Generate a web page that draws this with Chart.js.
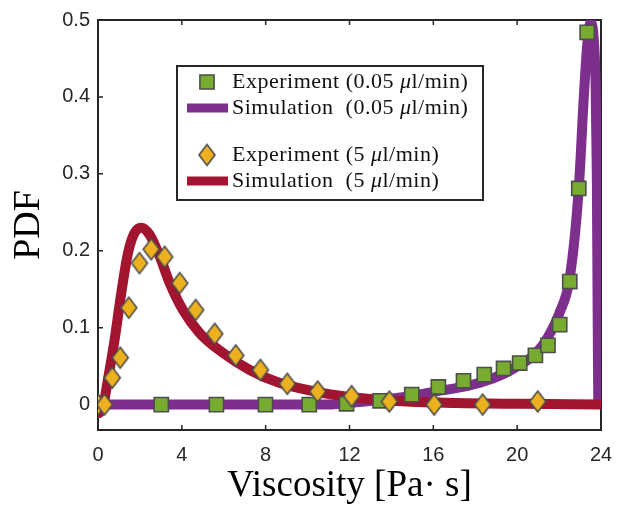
<!DOCTYPE html>
<html>
<head>
<meta charset="utf-8">
<script src="https://cdn.jsdelivr.net/npm/chart.js@4.4.0/dist/chart.umd.min.js"></script>
<style>
  html, body { margin: 0; padding: 0; background: #fff; }
</style>
</head>
<body>
<canvas id="pdf" width="619" height="509"></canvas>
<script>
// PDF of viscosity — experiment vs simulation at two flow rates.

const X_TICKS = [0, 4, 8, 12, 16, 20, 24];
const Y_TICKS = [0, 0.1, 0.2, 0.3, 0.4, 0.5];

const LABELS = [
  'Experiment (0.05 μl/min)',
  'Simulation  (0.05 μl/min)',
  'Experiment (5 μl/min)',
  'Simulation  (5 μl/min)',
];

// experiment, 0.05 ul/min (squares)
const EXP_SLOW_X = [3.02, 5.65, 7.99, 10.08, 11.86, 13.46, 14.97, 16.24, 17.44, 18.43, 19.35, 20.12, 20.87, 21.47, 22.03, 22.51, 22.94, 23.34];
const EXP_SLOW_Y = [0, 0, 0, 0, 0.001, 0.005, 0.013, 0.023, 0.031, 0.039, 0.047, 0.054, 0.064, 0.077, 0.104, 0.160, 0.281, 0.484];

// experiment, 5 ul/min (diamonds)
const EXP_FAST_X = [0, 0.31, 0.68, 1.06, 1.47, 1.98, 2.54, 3.18, 3.90, 4.66, 5.57, 6.57, 7.75, 9.03, 10.48, 12.10, 13.90, 16.04, 18.35, 20.98];
const EXP_FAST_Y = [0, 0, 0.035, 0.061, 0.126, 0.184, 0.202, 0.192, 0.158, 0.123, 0.092, 0.064, 0.045, 0.027, 0.017, 0.011, 0.004, 0, 0, 0.004];

// simulation, 0.05 ul/min
const SIM_SLOW_X = [0, 11, 11.9, 13.4, 14.9, 16.2, 17.4, 18.4, 19.35, 20.1, 20.87, 21.47, 22.03, 22.51, 22.94, 23.18, 23.35, 23.5, 23.64, 23.74, 23.8, 23.84, 23.87];
const SIM_SLOW_Y = [0, 0, 0.002, 0.006, 0.011, 0.0175, 0.023, 0.03, 0.04, 0.051, 0.066, 0.088, 0.12, 0.165, 0.281, 0.4, 0.47, 0.496, 0.48, 0.42, 0.3, 0.12, 0];

// simulation, 5 ul/min
const SIM_FAST_X = [0.06, 0.23, 0.47, 0.79, 1.11, 1.43, 1.74, 2.06, 2.46, 2.94, 3.42, 4.05, 4.85, 5.97, 7.24, 8.68, 10.75, 12.34, 14.73, 17.12, 20.3, 23.9];
const SIM_FAST_Y = [-0.011, -0.004, 0.032, 0.084, 0.145, 0.197, 0.223, 0.230, 0.221, 0.193, 0.158, 0.123, 0.093, 0.067, 0.045, 0.028, 0.015, 0.009, 0.004, 0.002, 0.001, 0];

const PURPLE = '#7E2F8E', RED = '#A2142F', YELLOW = '#EDB120', GREEN = '#77AC30';
const EDGE = '#4d4d4d', AXIS = '#262626';

const pts = (xs, ys) => xs.map((x, i) => ({ x, y: ys[i] }));

// tall diamond marker, drawn once and used as a point style
function diamond(w, h) {
  const c = document.createElement('canvas');
  c.width = w + 4; c.height = h + 4;
  const g = c.getContext('2d');
  const cx = c.width / 2, cy = c.height / 2;
  g.beginPath();
  g.moveTo(cx, cy - h / 2); g.lineTo(cx + w / 2, cy); g.lineTo(cx, cy + h / 2); g.lineTo(cx - w / 2, cy);
  g.closePath();
  g.fillStyle = YELLOW; g.fill();
  g.lineWidth = 1.6; g.strokeStyle = EDGE; g.stroke();
  return c;
}
const DIAMOND = diamond(16, 21);

// box + inward ticks on all four sides, under the data
const frame = {
  id: 'frame',
  beforeDatasetsDraw(chart) {
    const { ctx, chartArea: a, scales: { x, y } } = chart;
    ctx.save();
    ctx.strokeStyle = AXIS;
    ctx.lineWidth = 1.5;
    ctx.beginPath();
    x.ticks.forEach((t) => {
      const px = x.getPixelForValue(t.value);
      ctx.moveTo(px, a.bottom); ctx.lineTo(px, a.bottom - 5);
      ctx.moveTo(px, a.top); ctx.lineTo(px, a.top + 5);
    });
    y.ticks.forEach((t) => {
      const py = y.getPixelForValue(t.value);
      ctx.moveTo(a.left, py); ctx.lineTo(a.left + 5, py);
      ctx.moveTo(a.right, py); ctx.lineTo(a.right - 5, py);
    });
    ctx.stroke();
    ctx.lineWidth = 2;
    ctx.strokeRect(a.left, a.top, a.right - a.left, a.bottom - a.top);
    ctx.restore();
  },
};

// legend with a gap between the two flow-rate groups, mu in italic
function drawLabel(ctx, text, x, y) {
  const parts = text.split('μ');
  parts.forEach((p, i) => {
    ctx.font = '22px "Liberation Serif"';
    ctx.fillText(p, x, y);
    x += ctx.measureText(p).width;
    if (i < parts.length - 1) {
      ctx.font = 'italic 22px "Liberation Serif"';
      ctx.fillText('μ', x, y);
      x += ctx.measureText('μ').width;
    }
  });
}

const legendBox = {
  id: 'legendBox',
  afterDraw(chart) {
    const ctx = chart.ctx;
    const box = { l: 177, t: 66, r: 483, b: 200 };
    const rowsY = [82, 108, 155, 181];
    ctx.save();
    ctx.fillStyle = '#fff';
    ctx.fillRect(box.l, box.t, box.r - box.l, box.b - box.t);
    ctx.strokeStyle = AXIS;
    ctx.lineWidth = 2;
    ctx.strokeRect(box.l, box.t, box.r - box.l, box.b - box.t);
    ctx.letterSpacing = '0.5px';
    chart.data.datasets.forEach((ds, i) => {
      const yy = rowsY[i];
      if (ds.showLine) {
        ctx.strokeStyle = ds.borderColor;
        ctx.lineWidth = 9;
        ctx.beginPath(); ctx.moveTo(187, yy); ctx.lineTo(228, yy); ctx.stroke();
      } else {
        ctx.fillStyle = ds.backgroundColor;
        ctx.strokeStyle = ds.borderColor;
        ctx.lineWidth = ds.borderWidth;
        Chart.helpers.drawPoint(ctx, { pointStyle: ds.pointStyle, radius: ds.pointRadius, rotation: 0, borderWidth: ds.borderWidth }, 207, yy);
      }
      ctx.fillStyle = '#111';
      ctx.textBaseline = 'middle';
      drawLabel(ctx, ds.label, 232, yy);
    });
    ctx.restore();
  },
};

const tickFont = { family: '"Liberation Sans", Arial, sans-serif', size: 20 };

new Chart(document.getElementById('pdf'), {
  type: 'scatter',
  data: {
    datasets: [
      { label: LABELS[0], data: pts(EXP_SLOW_X, EXP_SLOW_Y), order: 1, showLine: false,
        pointStyle: 'rect', pointRadius: 10, backgroundColor: GREEN, borderColor: EDGE, borderWidth: 1.6 },
      { label: LABELS[1], data: pts(SIM_SLOW_X, SIM_SLOW_Y), order: 3, showLine: true,
        pointRadius: 0, borderColor: PURPLE, borderWidth: 10, cubicInterpolationMode: 'monotone' },
      { label: LABELS[2], data: pts(EXP_FAST_X, EXP_FAST_Y), order: 0, showLine: false,
        pointStyle: DIAMOND, pointRadius: 10, backgroundColor: YELLOW, borderColor: EDGE, borderWidth: 1.6 },
      { label: LABELS[3], data: pts(SIM_FAST_X, SIM_FAST_Y), order: 2, showLine: true,
        pointRadius: 0, borderColor: RED, borderWidth: 10, borderCapStyle: 'round', cubicInterpolationMode: 'monotone' },
    ],
  },
  options: {
    responsive: false,
    animation: false,
    events: [],
    layout: { padding: { left: 0, right: 18, top: 20, bottom: 0 } },
    plugins: { legend: { display: false }, tooltip: { enabled: false } },
    scales: {
      x: {
        type: 'linear', min: 0, max: 24,
        afterBuildTicks: (s) => { s.ticks = X_TICKS.map((value) => ({ value })); },
        afterFit: (s) => { s.height = 79; s.paddingLeft = 0; s.paddingRight = 0; },
        grid: { display: false, drawTicks: false },
        border: { display: false },
        ticks: { font: tickFont, color: AXIS, padding: 13, maxRotation: 0 },
        title: { display: true, text: 'Viscosity [Pa· s]', color: '#000',
          font: { family: '"Liberation Serif", serif', size: 37, lineHeight: 1 }, padding: { top: 0, bottom: 4 } },
      },
      y: {
        type: 'linear', min: -0.033, max: 0.5,
        afterBuildTicks: (s) => { s.ticks = Y_TICKS.map((value) => ({ value })); },
        afterFit: (s) => { s.width = 98; s.paddingTop = 0; s.paddingBottom = 0; },
        grid: { display: false, drawTicks: false },
        border: { display: false },
        ticks: { font: tickFont, color: AXIS, padding: 8 },
        title: { display: true, text: 'PDF', color: '#000',
          font: { family: '"Liberation Serif", serif', size: 38, lineHeight: 1 }, padding: { top: 10, bottom: 0 } },
      },
    },
  },
  plugins: [frame, legendBox],
});
</script>
</body>
</html>
